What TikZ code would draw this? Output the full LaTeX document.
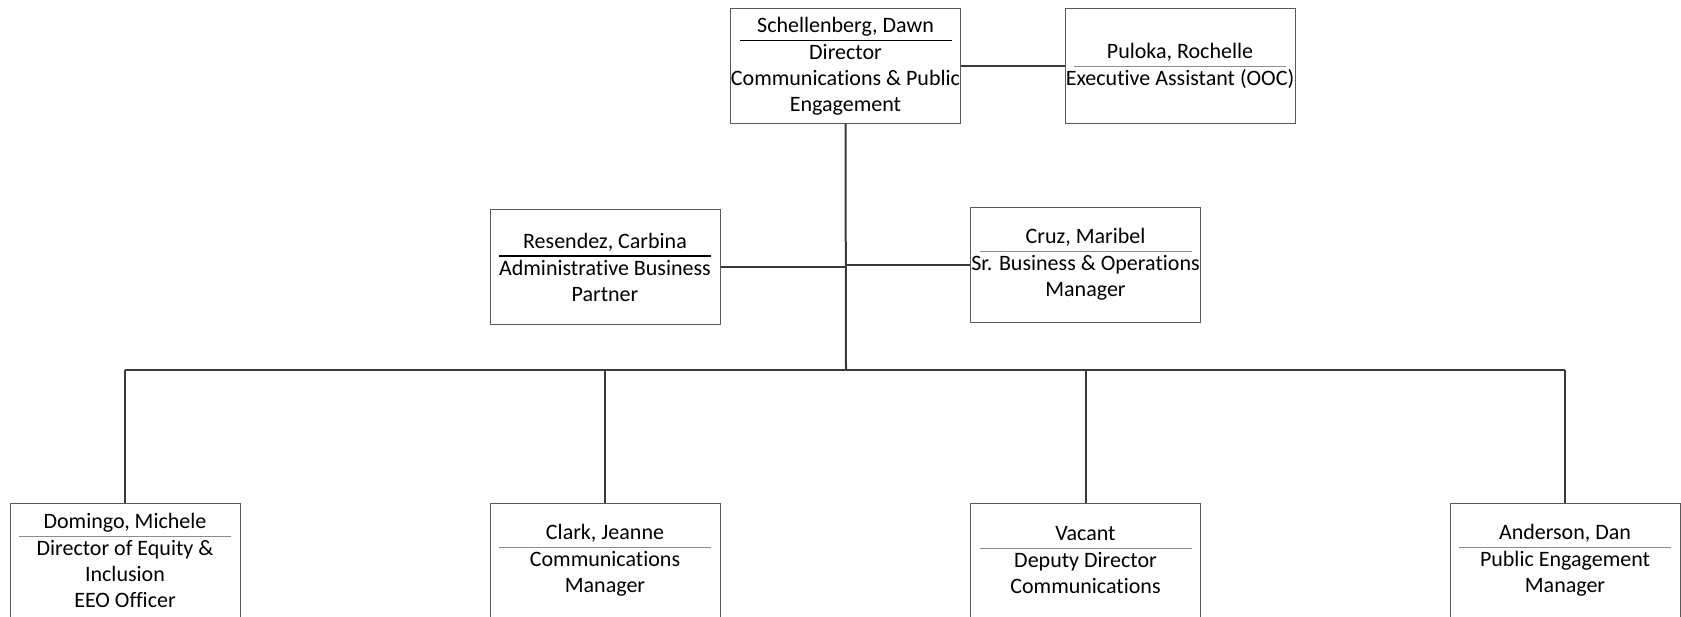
\documentclass[tikz,border=0pt]{standalone}
\usepackage{fontspec}
\setmainfont[Ligatures=NoCommon]{Carlito}

\definecolor{boxline}{HTML}{595959}
\definecolor{linkline}{HTML}{3A3A3A}
\definecolor{namerule}{HTML}{8C8C8C}
\newcommand{\who}[3][namerule]{#2\\[-8.75pt]{\color{#1}\rule{106pt}{0.6pt}}\\[-3.75pt]#3}

\tikzset{
 staff/.style={draw=boxline, line width=0.5pt, minimum width=115pt, minimum height=57.5pt,
  inner sep=0pt, align=center, font=\fontsize{11}{13}\selectfont},
 link/.style={draw=linkline, line width=1pt}
}

\begin{document}
\begin{tikzpicture}[x=0.5pt,y=-0.5pt]
\useasboundingbox (0,0) rectangle (1681,616);

% top row
\node[staff] (dawn) at (845.5,66) {\who[black]{Schellenberg, Dawn}{Director\\Communications \& Public\\Engagement}};
\node[staff] (puloka) at (1180,66) {\who{Puloka, Rochelle}{Executive Assistant (OOC)}};

% middle row
\node[staff] (resendez) at (605,267) {\who[black]{Resendez, Carbina}{Administrative Business\\Partner}};
\node[staff] (cruz) at (1085.5,264.5) {\who{Cruz, Maribel}{Sr. Business \& Operations\\Manager}};

% bottom row
\node[staff] (domingo) at (125,560.5) {\who{Domingo, Michele}{Director of Equity \&\\Inclusion\\EEO Officer}};
\node[staff] (clark) at (605,560.5) {\who{Clark, Jeanne}{Communications\\Manager}};
\node[staff] (vacant) at (1085.5,560.5) {\who{Vacant}{Deputy Director\\Communications}};
\node[staff] (anderson) at (1565,560.5) {\who{Anderson, Dan}{Public Engagement\\Manager}};

\coordinate (hub) at (846,370);

\draw[link] (dawn.east) -- (puloka.west);
\draw[link] (dawn.south) -- (hub);
\draw[link] (resendez.east) -- (resendez.east -| hub);
\draw[link] (cruz.west -| hub) -- (cruz.west);

\draw[link] (domingo.north |- hub) -- (anderson.north |- hub);
\foreach \n in {domingo,clark,vacant,anderson}{
 \draw[link] (\n.north) -- (\n.north |- hub);
}
\end{tikzpicture}
\end{document}
